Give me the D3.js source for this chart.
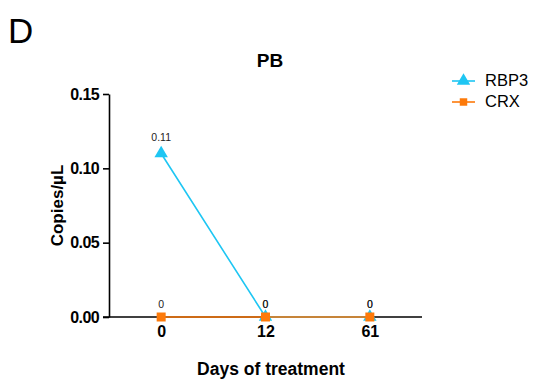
<!DOCTYPE html>
<html>
<head>
<meta charset="utf-8">
<script src="https://cdn.jsdelivr.net/npm/d3@7"></script>
<style>
  body { margin: 0; background: #fff; }
  svg { display: block; font-family: Arial, "Liberation Sans", sans-serif; }
</style>
</head>
<body>
<div class="js-chart"></div>
<script>
'use strict';

const days = ['0', '12', '61'];
const rbp3 = [0.11, 0, 0];
const crx = [0, 0, 0];
const yTicks = [0.00, 0.05, 0.10, 0.15];

const series = [
  { name: 'RBP3', values: rbp3, color: '#1ec6f3', shape: d3.symbolTriangle, size: 78 },
  { name: 'CRX', values: crx, color: '#fd7a0a', shape: d3.symbolSquare, size: 81 }
];

const svgWidth = 534;
const svgHeight = 381;
const plotLeft = 109, plotRight = 422, plotTop = 94, plotBottom = 317;
const fontFam = 'Arial, "Liberation Sans", sans-serif';

const svg = d3.select('.js-chart')
  .append('svg')
  .attr('width', svgWidth)
  .attr('height', svgHeight);

const x = d3.scalePoint()
  .domain(days)
  .range([plotLeft, plotRight])
  .padding(0.5);

const y = d3.scaleLinear()
  .domain([0, 0.15])
  .range([plotBottom, plotTop]);

// panel letter and title
svg.append('text')
  .attr('x', 8).attr('y', 43)
  .attr('font-size', 35)
  .text('D');

svg.append('text')
  .attr('x', 270).attr('y', 67)
  .attr('text-anchor', 'middle')
  .attr('font-size', 19).attr('font-weight', 'bold')
  .text('PB');

// y axis
const yAxis = svg.append('g')
  .attr('transform', `translate(${plotLeft},0)`)
  .call(d3.axisLeft(y).tickValues(yTicks).tickFormat(d3.format('.2f')).tickSize(6).tickSizeOuter(0).tickPadding(4));
yAxis.select('.domain').attr('stroke-width', 1.6);
yAxis.selectAll('.tick line').attr('stroke-width', 1.6);
yAxis.selectAll('.tick text')
  .attr('font-size', 16).attr('font-weight', 'bold')
  .attr('letter-spacing', -0.6)
  .attr('font-family', fontFam)
  .attr('fill', '#000');

// x axis
const xAxis = svg.append('g')
  .attr('transform', `translate(0,${plotBottom})`)
  .call(d3.axisBottom(x).tickSize(4).tickSizeOuter(0).tickPadding(5));
xAxis.select('.domain').attr('d', `M${plotLeft - 6},0H${plotRight}`).attr('stroke-width', 1.6);
xAxis.selectAll('.tick line').attr('stroke-width', 1.2);
xAxis.selectAll('.tick text')
  .attr('font-size', 16).attr('font-weight', 'bold')
  .attr('font-family', fontFam)
  .attr('fill', '#000');

// axis titles
svg.append('text')
  .attr('x', 271).attr('y', 375)
  .attr('text-anchor', 'middle')
  .attr('font-size', 17.5).attr('font-weight', 'bold')
  .text('Days of treatment');

svg.append('text')
  .attr('transform', `translate(63,${(plotTop + plotBottom) / 2}) rotate(-90)`)
  .attr('text-anchor', 'middle')
  .attr('font-size', 17).attr('font-weight', 'bold')
  .text('Copies/\u00b5L');

// lines and markers
const line = d3.line()
  .x((d, i) => x(days[i]))
  .y(d => y(d));

series.forEach(function(s) {
  const g = svg.append('g');
  g.append('path')
    .datum(s.values)
    .attr('fill', 'none')
    .attr('stroke', s.color)
    .attr('stroke-width', 1.6)
    .attr('d', line);
  g.selectAll('path.mark')
    .data(s.values)
    .enter()
    .append('path')
    .attr('class', 'mark')
    .attr('transform', (d, i) => `translate(${x(days[i])},${y(d)})`)
    .attr('d', d3.symbol().type(s.shape).size(s.size))
    .attr('fill', s.color);
});

// value labels for both series (they overlap where values match)
series.forEach(function(s) {
  svg.selectAll(null)
    .data(s.values)
    .enter()
    .append('text')
    .attr('x', (d, i) => x(days[i]))
    .attr('y', d => y(d) - (d > 0 ? 12.5 : 9))
    .attr('text-anchor', 'middle')
    .attr('font-size', 10.5)
    .attr('fill', '#222')
    .text(d => d);
});

// legend
const legend = svg.append('g').attr('transform', 'translate(452,0)');
series.forEach(function(s, i) {
  const row = legend.append('g').attr('transform', `translate(0,${81 + i * 21})`);
  row.append('line')
    .attr('x1', 0).attr('x2', 23)
    .attr('stroke', s.color).attr('stroke-width', 1.6);
  row.append('path')
    .attr('transform', 'translate(11.5,0)')
    .attr('d', d3.symbol().type(s.shape).size(s.shape === d3.symbolTriangle ? 78 : 56))
    .attr('fill', s.color);
  row.append('text')
    .attr('x', 33).attr('y', 5)
    .attr('font-size', 16.5)
    .text(s.name);
});
</script>
</body>
</html>
